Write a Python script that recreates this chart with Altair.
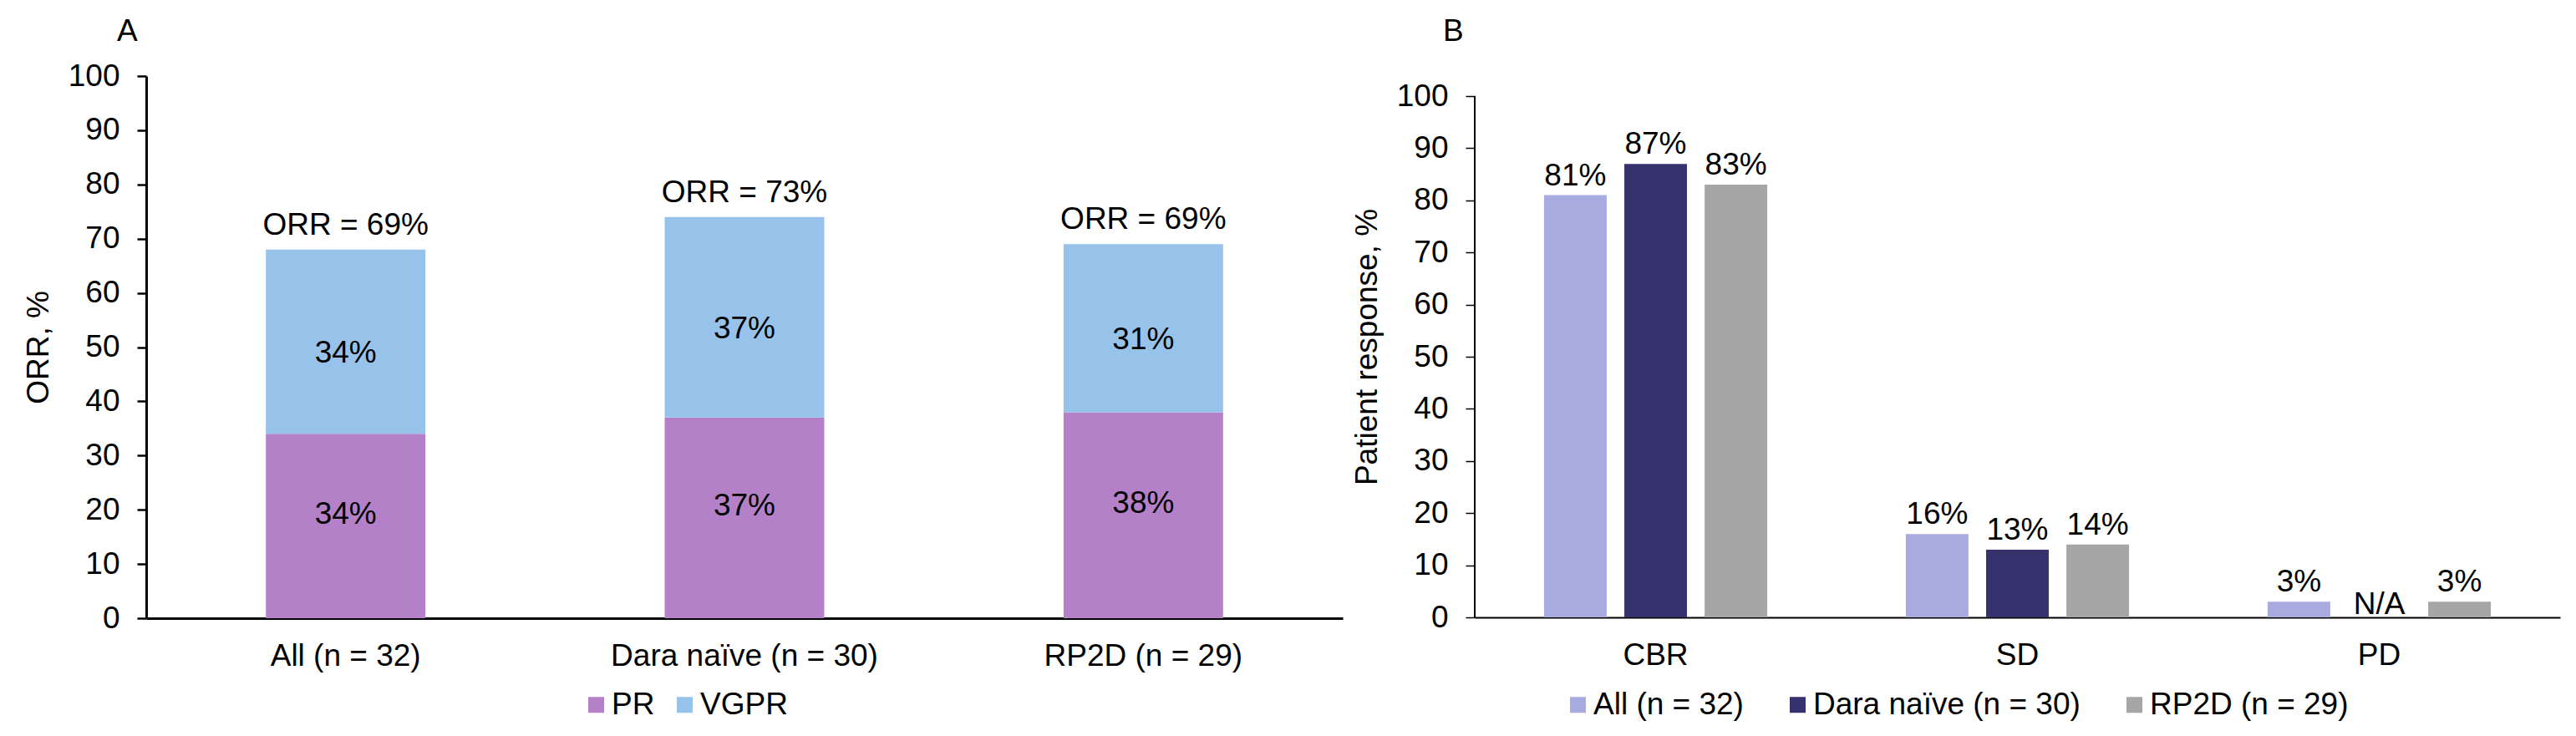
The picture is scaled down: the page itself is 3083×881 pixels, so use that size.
import altair as alt
import pandas as pd

# ---------------- Panel A data ----------------
cohorts = ["All (n = 32)", "Dara naïve (n = 30)", "RP2D (n = 29)"]
pr_values = [34, 37, 38]
vgpr_values = [34, 37, 31]
pr_labels = ["34%", "37%", "38%"]
vgpr_labels = ["34%", "37%", "31%"]
orr_labels = ["ORR = 69%", "ORR = 73%", "ORR = 69%"]
response_types = ["PR", "VGPR"]
response_colors = ["#B480C8", "#97C3EB"]

# ---------------- Panel B data ----------------
categories_b = ["CBR", "SD", "PD"]
all_values = [81, 16, 3]
dara_values = [87, 13, None]
rp2d_values = [83, 14, 3]
all_labels = ["81%", "16%", "3%"]
dara_labels = ["87%", "13%", "N/A"]
rp2d_labels = ["83%", "14%", "3%"]
cohort_colors = ["#A8ABDF", "#36326E", "#A6A6A6"]

y_ticks = list(range(0, 101, 5))

FONT = "Liberation Sans"
FS = 37

# ---------------- tables ----------------
rows_a = []
for i, c in enumerate(cohorts):
    rows_a.append(dict(cohort=c, type="PR", order=0, value=pr_values[i], label=pr_labels[i]))
    rows_a.append(dict(cohort=c, type="VGPR", order=1, value=vgpr_values[i], label=vgpr_labels[i]))
df_a = pd.DataFrame(rows_a)
df_a_tot = pd.DataFrame({
    "cohort": cohorts,
    "total": [p + v for p, v in zip(pr_values, vgpr_values)],
    "label": orr_labels,
})

rows_b = []
for j, r in enumerate(categories_b):
    for c, vals, labs in zip(cohorts, [all_values, dara_values, rp2d_values],
                             [all_labels, dara_labels, rp2d_labels]):
        rows_b.append(dict(response=r, cohort=c, value=vals[j], label=labs[j]))
df_b = pd.DataFrame(rows_b)
df_b_axis = pd.DataFrame({"lo": [0], "hi": [100]})

label_expr = "datum.value % 10 === 0 ? datum.label : ''"

# ---------------- Panel A ----------------
xA = alt.X(
    "cohort:N", sort=cohorts, title=None,
    scale=alt.Scale(paddingInner=0.6, paddingOuter=0.3),
    axis=alt.Axis(labelAngle=0, labelFont=FONT, labelFontSize=FS, labelColor="black",
                  labelLimit=1000, ticks=False, tickSize=0, labelPadding=27,
                  domainColor="black", domainWidth=3, grid=False),
)
yA = alt.Y(
    "value:Q", title="ORR, %",
    scale=alt.Scale(domain=[0, 100], nice=False),
    axis=alt.Axis(values=y_ticks, labelExpr=label_expr, tickSize=11, tickWidth=2.5,
                  tickColor="black", domainColor="black", domainWidth=3,
                  labelFont=FONT, labelFontSize=FS, labelColor="black", labelPadding=21,
                  titleFont=FONT, titleFontSize=FS, titleFontWeight="normal",
                  titleColor="black", titlePadding=16, grid=False),
)

legend_a = alt.Legend(orient="none", legendX=520, legendY=734, direction="horizontal",
                      title=None, symbolType="square", symbolSize=361, symbolStrokeWidth=0,
                      labelFont=FONT, labelFontSize=FS, labelColor="black", labelLimit=1000,
                      labelOffset=0, columnPadding=17, padding=0)

bars_a = alt.Chart(df_a).mark_bar().encode(
    x=xA, y=yA,
    color=alt.Color("type:N", scale=alt.Scale(domain=response_types, range=response_colors),
                    legend=legend_a),
    order=alt.Order("order:Q"),
)

seg_base = alt.Chart(df_a).transform_stack(
    stack="value", groupby=["cohort"], as_=["v0", "v1"], sort=[alt.SortField("order")]
).transform_calculate(mid="(datum.v0 + datum.v1) / 2")

seg_text_pr = seg_base.transform_filter("datum.type == 'PR'").mark_text(
    font=FONT, fontSize=FS, color="black", baseline="middle", dy=-14
).encode(x=alt.X("cohort:N", sort=cohorts), y=alt.Y("mid:Q"), text="label:N")

seg_text_vgpr = seg_base.transform_filter("datum.type == 'VGPR'").mark_text(
    font=FONT, fontSize=FS, color="black", baseline="middle", dy=14
).encode(x=alt.X("cohort:N", sort=cohorts), y=alt.Y("mid:Q"), text="label:N")

orr_text = alt.Chart(df_a_tot).mark_text(
    font=FONT, fontSize=FS, color="black", baseline="alphabetic", dy=-18
).encode(x=alt.X("cohort:N", sort=cohorts), y=alt.Y("total:Q"), text="label:N")

panel_a = alt.layer(bars_a, seg_text_pr, seg_text_vgpr, orr_text).properties(
    width=1432, height=649,
    title=alt.TitleParams("A", anchor="start", frame="group", dx=-35, fontSize=FS,
                          font=FONT, fontWeight="normal", color="black",
                          baseline="alphabetic", offset=-14),
)

# ---------------- Panel B ----------------
B_TOP = 103.85  # plot extends slightly above the 100 tick
xB = alt.X(
    "response:N", sort=categories_b, title=None,
    scale=alt.Scale(paddingInner=0.383, paddingOuter=0.1915),
    axis=alt.Axis(labelAngle=0, labelFont=FONT, labelFontSize=FS, labelColor="black",
                  labelLimit=1000, ticks=False, tickSize=0, labelPadding=27,
                  domainColor="black", domainWidth=2, grid=False),
)
xoffB = alt.XOffset("cohort:N", sort=cohorts,
                    scale=alt.Scale(paddingInner=0.22, paddingOuter=0))
yB = alt.Y(
    "value:Q", title="Patient response, %",
    scale=alt.Scale(domain=[0, B_TOP], nice=False),
    axis=alt.Axis(values=y_ticks, labelExpr=label_expr, tickSize=11, tickWidth=1.5,
                  tickColor="black", domain=False,
                  labelFont=FONT, labelFontSize=FS, labelColor="black", labelPadding=21,
                  titleFont=FONT, titleFontSize=FS, titleFontWeight="normal",
                  titleColor="black", titlePadding=16, grid=False),
)

legend_b = alt.Legend(orient="none", legendX=105, legendY=734, direction="horizontal",
                      title=None, symbolType="square", symbolSize=361, symbolStrokeWidth=0,
                      labelFont=FONT, labelFontSize=FS, labelColor="black", labelLimit=1000,
                      labelOffset=0, columnPadding=46, padding=0)

bars_b = alt.Chart(df_b).mark_bar().encode(
    x=xB, xOffset=xoffB, y=yB,
    color=alt.Color("cohort:N", scale=alt.Scale(domain=cohorts, range=cohort_colors),
                    legend=legend_b),
)

val_text = alt.Chart(df_b).transform_filter("datum.value != null").mark_text(
    font=FONT, fontSize=FS, color="black", baseline="alphabetic", dy=-12
).encode(x=alt.X("response:N", sort=categories_b), xOffset=xoffB,
         y=alt.Y("value:Q"), text="label:N")

na_text = alt.Chart(df_b).transform_filter("datum.value == null").transform_calculate(
    base="0"
).mark_text(
    font=FONT, fontSize=FS, color="black", baseline="alphabetic", dy=-4
).encode(x=alt.X("response:N", sort=categories_b), xOffset=xoffB,
         y=alt.Y("base:Q"), text="label:N")

axis_line_b = alt.Chart(df_b_axis).mark_rule(color="black", strokeWidth=2).encode(
    x=alt.value(0), y=alt.Y("lo:Q"), y2="hi:Q"
)

panel_b = alt.layer(bars_b, val_text, na_text, axis_line_b).properties(
    width=1299, height=648,
    title=alt.TitleParams("B", anchor="start", frame="group", dx=-38, fontSize=FS,
                          font=FONT, fontWeight="normal", color="black",
                          baseline="alphabetic", offset=5),
)

chart = alt.hconcat(panel_a, panel_b, spacing=8).resolve_scale(
    color="independent", x="independent", y="independent"
).properties(
    padding={"left": 18, "top": 10, "right": 0, "bottom": 0}
).configure_view(stroke="transparent")

chart.save("out.html", embed_options={"renderer": "svg", "actions": False})
